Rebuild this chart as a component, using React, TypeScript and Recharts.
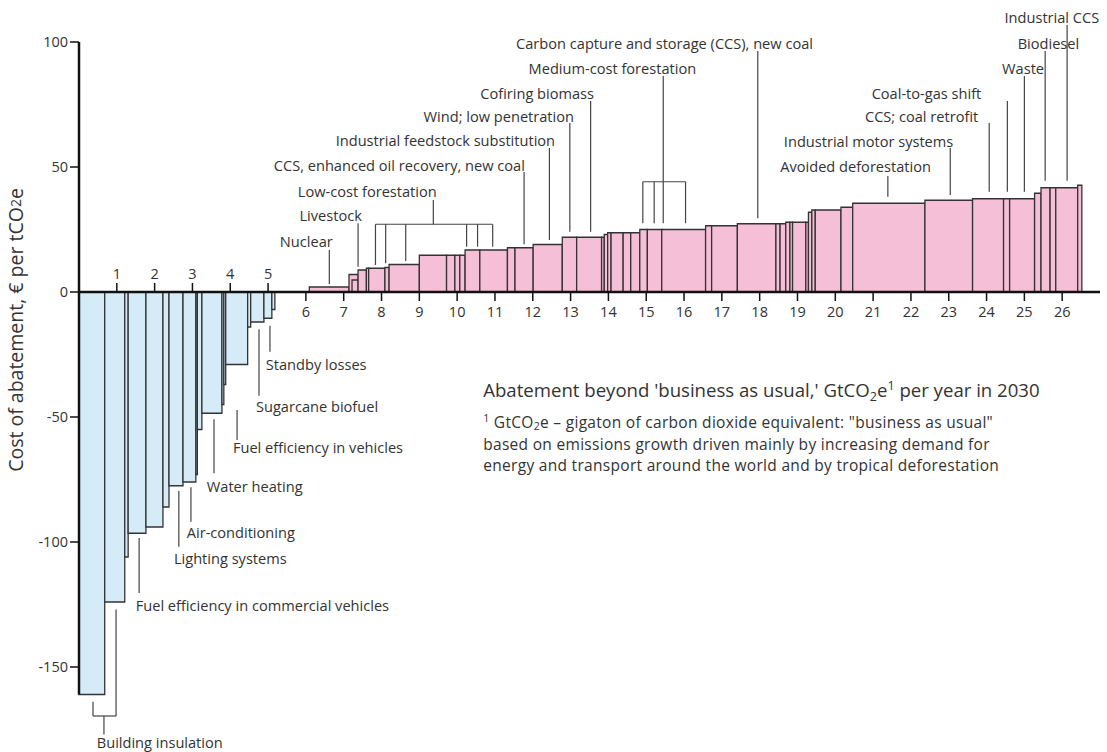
import React from "react";
import {
	ComposedChart,
	XAxis,
	YAxis,
	ReferenceArea,
	ReferenceLine,
	ReferenceDot,
} from "recharts";

const FONT = "'Open Sans', 'Noto Sans', sans-serif";
const INK = "#333";
const BLUE = "#d5ebf8";
const PINK = "#f5bfd7";

// levers with a saving: [from Gt, to Gt, € per tCO2e]
const savingLevers: [number, number, number][] = [
	[0, 0.68, -161],
	[0.68, 1.21, -124],
	[1.21, 1.3, -106],
	[1.3, 1.77, -96.5],
	[1.77, 2.22, -94],
	[2.22, 2.38, -86],
	[2.38, 2.75, -77.5],
	[2.75, 3.09, -76],
	[3.09, 3.13, -73],
	[3.13, 3.25, -55],
	[3.25, 3.78, -48.5],
	[3.78, 3.83, -45],
	[3.83, 3.88, -37],
	[3.88, 4.46, -29],
	[4.46, 4.54, -14],
	[4.54, 4.89, -12],
	[4.89, 5.1, -10.5],
	[5.1, 5.18, -7],
];

// levers with a cost
const costLevers: [number, number, number][] = [
	[6.09, 7.14, 2],
	[7.14, 7.38, 7],
	[7.22, 7.38, 4.8],
	[7.38, 7.6, 8.8],
	[7.6, 7.66, 9.5],
	[7.66, 8.09, 9.5],
	[8.09, 8.2, 9.8],
	[8.2, 9.0, 11],
	[9.0, 9.72, 14.7],
	[9.72, 9.94, 14.7],
	[9.94, 10.07, 14.7],
	[10.07, 10.21, 14.7],
	[10.21, 10.6, 16.8],
	[10.6, 11.33, 16.8],
	[11.33, 11.53, 17.7],
	[11.53, 12.01, 17.7],
	[12.01, 12.78, 19],
	[12.78, 13.16, 21.9],
	[13.16, 13.82, 21.9],
	[13.82, 13.89, 21.9],
	[13.89, 13.98, 23],
	[13.98, 14.07, 23.7],
	[14.07, 14.39, 23.7],
	[14.39, 14.59, 23.7],
	[14.59, 14.83, 23.7],
	[14.83, 15.03, 25],
	[15.03, 15.41, 25],
	[15.41, 16.57, 25],
	[16.57, 16.73, 26.5],
	[16.73, 17.41, 26.5],
	[17.41, 18.43, 27.3],
	[18.43, 18.54, 27.3],
	[18.54, 18.69, 27.3],
	[18.69, 18.8, 27.9],
	[18.8, 18.87, 27.9],
	[18.87, 19.22, 27.9],
	[19.22, 19.29, 27.9],
	[19.29, 19.38, 31.9],
	[19.38, 19.47, 32.8],
	[19.47, 20.15, 32.8],
	[20.15, 20.46, 33.9],
	[20.46, 22.37, 35.5],
	[22.37, 23.63, 36.7],
	[23.63, 24.45, 37.3],
	[24.45, 24.61, 37.3],
	[24.61, 25.27, 37.3],
	[25.27, 25.44, 39.5],
	[25.44, 25.68, 41.7],
	[25.68, 25.83, 41.7],
	[25.83, 26.41, 41.7],
	[26.41, 26.52, 42.7],
];

const ticksAbove = [1, 2, 3, 4, 5];
const ticksBelow = [6, 7, 8, 9, 10, 11, 12, 13, 14, 15, 16, 17, 18, 19, 20, 21, 22, 23, 24, 25, 26];
const yTicks = [-150, -100, -50, 0, 50, 100];

// lever names: text, x (Gt), y (€), anchor
const callouts: [string, number, number, "start" | "end"][] = [
	["Building insulation", 0.47, -180, "start"],
	["Fuel efficiency in commercial vehicles", 1.5, -125.2, "start"],
	["Lighting systems", 2.51, -106.4, "start"],
	["Air-conditioning", 2.85, -96, "start"],
	["Water heating", 3.38, -77.6, "start"],
	["Fuel efficiency in vehicles", 4.07, -62, "start"],
	["Sugarcane biofuel", 4.68, -45.6, "start"],
	["Standby losses", 4.94, -28.8, "start"],
	["Nuclear", 6.71, 20.4, "end"],
	["Livestock", 7.48, 30.8, "end"],
	["Low-cost forestation", 9.46, 40.4, "end"],
	["CCS, enhanced oil recovery, new coal", 11.79, 50.8, "end"],
	["Industrial feedstock substitution", 12.59, 60.8, "end"],
	["Wind; low penetration", 13.09, 70.4, "end"],
	["Cofiring biomass", 13.62, 79.6, "end"],
	["Medium-cost forestation", 16.32, 89.6, "end"],
	["Carbon capture and storage (CCS), new coal", 19.41, 99.6, "end"],
	["Avoided deforestation", 22.53, 50.4, "end"],
	["Industrial motor systems", 23.12, 60.4, "end"],
	["CCS; coal retrofit", 23.78, 70.4, "end"],
	["Coal-to-gas shift", 23.86, 79.6, "end"],
	["Waste", 25.52, 89.6, "end"],
	["Biodiesel", 26.45, 99.6, "end"],
	["Industrial CCS", 26.98, 110, "end"],
];

// leader lines: x1, y1, x2, y2
const leaders: [number, number, number, number][] = [
	[0.37, -163.9, 0.37, -169.6],
	[0.37, -169.6, 0.98, -169.6],
	[0.98, -127, 0.98, -169.6],
	[0.66, -169.6, 0.66, -177],
	[1.59, -98.4, 1.59, -120.4],
	[2.64, -79.6, 2.64, -101.9],
	[2.96, -78.1, 2.96, -91.9],
	[3.57, -50.9, 3.57, -72.5],
	[4.18, -47.2, 4.18, -59.2],
	[4.76, -14.9, 4.76, -41.5],
	[5.05, -13.5, 5.05, -23.9],
	[6.62, 16.8, 6.62, 3.2],
	[7.38, 27.5, 7.38, 10.1],
	[9.37, 36.8, 9.37, 27.1],
	[7.84, 27.1, 10.94, 27.1],
	[7.84, 27.1, 7.84, 10.8],
	[8.11, 27.1, 8.11, 11.5],
	[8.64, 27.1, 8.64, 12.4],
	[10.25, 27.1, 10.25, 18.1],
	[10.54, 27.1, 10.54, 18.1],
	[10.94, 27.1, 10.94, 18.1],
	[11.77, 48, 11.77, 19.1],
	[12.44, 57.6, 12.44, 20.8],
	[12.98, 67.6, 12.98, 24.1],
	[13.53, 76.4, 13.53, 24.1],
	[15.45, 86.4, 15.45, 44.1],
	[14.91, 44.1, 16.04, 44.1],
	[14.91, 44.1, 14.91, 27.5],
	[15.21, 44.1, 15.21, 27.5],
	[15.45, 44.1, 15.45, 27.5],
	[16.04, 44.1, 16.04, 27.5],
	[17.95, 96.4, 17.95, 29.5],
	[21.39, 46.4, 21.39, 38.1],
	[23.04, 57.6, 23.04, 38.8],
	[24.07, 67.6, 24.07, 40.1],
	[24.55, 76.4, 24.55, 40.1],
	[25.0, 86.4, 25.0, 40.1],
	[25.55, 96.4, 25.55, 44.5],
	[26.13, 106.8, 26.13, 44.5],
];

const footLines = [
	"based on emissions growth driven mainly by increasing demand for",
	"energy and transport around the world and by tropical deforestation",
];

// anchors a bit of svg at a data point
const note = (key: string, x: number, y: number, draw: (px: number, py: number) => React.ReactElement) => (
	<ReferenceDot
		key={key}
		x={x}
		y={y}
		r={0}
		fill="none"
		stroke="none"
		ifOverflow="visible"
		label={(p: any) => draw(p.viewBox.x, p.viewBox.y)}
	/>
);

const App = () => {
	return (
		<div style={{ position: "absolute", left: 0, top: 0, background: "#fff" }}>
			<ComposedChart
				width={1107}
				height={752}
				margin={{ top: 42, right: 7, bottom: 57.5, left: 0 }}
				style={{ fontFamily: FONT }}
			>
				<XAxis type="number" dataKey="x" domain={[0, 27]} hide allowDataOverflow />
				<YAxis
					type="number"
					domain={[-161, 100]}
					ticks={yTicks}
					allowDataOverflow
					width={79}
					tickSize={9}
					tickMargin={2}
					axisLine={{ stroke: "#111", strokeWidth: 2.5 }}
					tickLine={{ stroke: "#111", strokeWidth: 1.5 }}
					tick={{ fill: INK, fontSize: 14.5, fontFamily: FONT }}
					label={(p: any) => (
						<text
							transform={`translate(${p.viewBox.x + 15}, ${p.viewBox.y + 288}) rotate(-90)`}
							textAnchor="middle"
							dominantBaseline="central"
							fill={INK}
							fontSize={19.5}
							fontFamily={FONT}
						>
							Cost of abatement, € per  tCO<tspan fontSize={14}>2</tspan>e
						</text>
					)}
				/>

				{savingLevers.map(([a, b, c], i) => (
					<ReferenceArea
						key={`s${i}`}
						x1={a}
						x2={b}
						y1={0}
						y2={c}
						fill={BLUE}
						fillOpacity={1}
						stroke={INK}
						strokeWidth={1.3}
						ifOverflow="visible"
					/>
				))}
				{costLevers.map(([a, b, c], i) => (
					<ReferenceArea
						key={`c${i}`}
						x1={a}
						x2={b}
						y1={0}
						y2={c}
						fill={PINK}
						fillOpacity={1}
						stroke={INK}
						strokeWidth={1.3}
						ifOverflow="visible"
					/>
				))}

				{leaders.map(([x1, y1, x2, y2], i) => (
					<ReferenceLine
						key={`l${i}`}
						segment={[
							{ x: x1, y: y1 },
							{ x: x2, y: y2 },
						]}
						stroke="#444"
						strokeWidth={1.2}
						ifOverflow="visible"
					/>
				))}

				<ReferenceLine y={0} stroke="#111" strokeWidth={2.5} />

				{ticksAbove.map((v) =>
					note(`ta${v}`, v, 0, (px, py) => (
						<g>
							<line x1={px} y1={py} x2={px} y2={py - 9} stroke="#111" strokeWidth={1.5} />
							<text x={px} y={py - 19} textAnchor="middle" dominantBaseline="central" fill={INK} fontSize={14.5} fontFamily={FONT}>
								{v}
							</text>
						</g>
					))
				)}
				{ticksBelow.map((v) =>
					note(`tb${v}`, v, 0, (px, py) => (
						<g>
							<line x1={px} y1={py} x2={px} y2={py + 9} stroke="#111" strokeWidth={1.5} />
							<text x={px} y={py + 19} textAnchor="middle" dominantBaseline="central" fill={INK} fontSize={14.5} fontFamily={FONT}>
								{v}
							</text>
						</g>
					))
				)}

				{callouts.map(([t, x, y, anchor], i) =>
					note(`n${i}`, x, y, (px, py) => (
						<text x={px} y={py} textAnchor={anchor} dominantBaseline="central" fill={INK} fontSize={14.6} fontFamily={FONT}>
							{t}
						</text>
					))
				)}

				{note("title", 10.69, -42, (px, py) => (
					<text x={px} y={py} fill={INK} fontSize={18.6} fontFamily={FONT}>
						Abatement beyond 'business as usual,' GtCO
						<tspan fontSize={12.5} dy={4}>2</tspan>
						<tspan dy={-4}>e</tspan>
						<tspan fontSize={12.5} dy={-7}>1</tspan>
						<tspan dy={7}> per year in 2030</tspan>
					</text>
				))}
				{note("foot", 10.69, -54.4, (px, py) => (
					<text x={px} y={py} fill={INK} fontSize={15.5} letterSpacing={0.3} fontFamily={FONT}>
						<tspan fontSize={10.5} dy={-6}>1</tspan>
						<tspan dy={6}> GtCO</tspan>
						<tspan fontSize={10.5} dy={2}>2</tspan>
						<tspan dy={-2}>e – gigaton of carbon dioxide equivalent: "business as usual"</tspan>
					</text>
				))}
				{footLines.map((line, i) =>
					note(`foot${i}`, 10.69, -63.2 - i * 8.4, (px, py) => (
						<text x={px} y={py} fill={INK} fontSize={15.5} letterSpacing={0.3} fontFamily={FONT}>
							{line}
						</text>
					))
				)}
			</ComposedChart>
		</div>
	);
};

export default App;
